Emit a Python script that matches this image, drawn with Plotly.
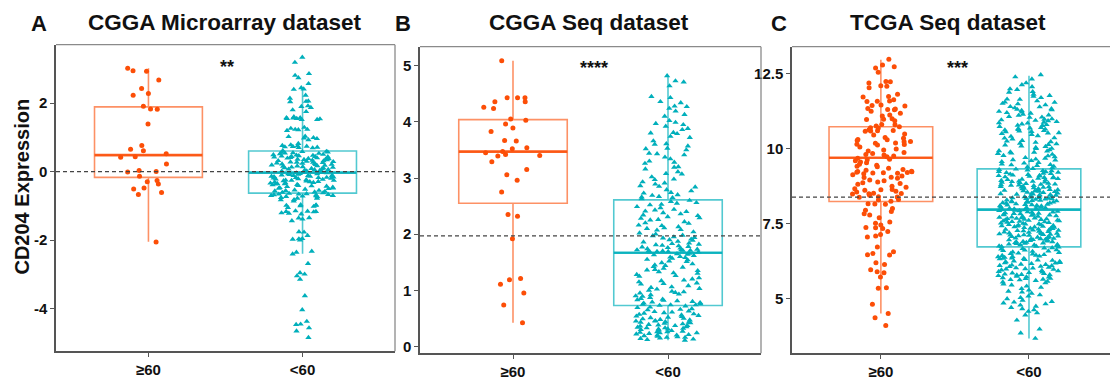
import plotly.graph_objects as go

# ---------------- data ----------------
CATS = ["≥60", "<60"]

# Panel A: CGGA Microarray
A_ge60 = [3.02, 2.95, 2.93, 2.68, 2.43, 2.28, 2.23, 1.91, 1.83, 1.82, 1.39, 0.76, 0.65, 0.61, 0.52,
          0.43, 0.42, 0.22, 0.03, -0.01, 0.00, -0.14, -0.26, -0.30, -0.36, -0.48, -0.51, -0.61, -0.67, -2.06]
A_lt60 = [3.34, 3.19, 2.86, 2.81, 2.74, 2.57, 2.45, 2.41, 2.40, 2.23, 2.14, 2.06, 2.05, 2.04, 1.92, 1.90,
          1.87, 1.80, 1.75, 1.60, 1.57, 1.57, 1.56, 1.55, 1.55, 1.54, 1.52, 1.52, 1.29, 1.26, 1.23, 1.23,
          1.22, 1.20, 1.03, 1.02, 0.99, 0.98, 0.96, 0.93, 0.82, 0.78, 0.76, 0.73, 0.71, 0.70, 0.72, 0.75,
          0.74, 0.69,
          0.58, 0.55, 0.61, 0.47, 0.52, 0.44, 0.39, 0.57, 0.33, 0.41, 0.36, 0.28, 0.49, 0.25, 0.31, 0.22,
          0.45, 0.18, 0.38, 0.14, 0.27, 0.53, 0.09, 0.35, 0.12, 0.42, 0.06, 0.19, 0.29, 0.03, 0.24, 0.48,
          0.16, 0.02, 0.37, 0.11, 0.56, 0.21, 0.07, 0.32, 0.43, 0.15, 0.26, 0.04, 0.50, 0.34, 0.08, 0.40,
          0.17, 0.23, 0.59, 0.13, 0.30, 0.46, 0.05, 0.20, 0.01, 0.36, 0.10, 0.27, 0.44, 0.54,
          -0.03, -0.07, -0.12, -0.04, -0.16, -0.21, -0.09, -0.26, -0.14, -0.31, -0.02, -0.19, -0.35, -0.06,
          -0.24, -0.41, -0.11, -0.28, -0.46, -0.17, -0.33, -0.52, -0.08, -0.22, -0.38, -0.57, -0.13, -0.29,
          -0.44, -0.61, -0.05, -0.18, -0.36, -0.49, -0.25, -0.62, -0.10, -0.32, -0.55, -0.20, -0.42, -0.15,
          -0.27, -0.50, -0.01, -0.23, -0.39, -0.58, -0.12, -0.34, -0.47, -0.07, -0.30, -0.54, -0.18, -0.43,
          -0.60, -0.26, -0.37, -0.14, -0.48, -0.04, -0.56,
          -0.65, -0.66, -0.68, -0.70, -0.67, -0.72, -0.69, -0.74, -0.71, -0.66, -0.76, -0.73, -0.78, -0.64,
          -0.70,
          -0.78, -0.83, -0.86, -0.82, -1.02, -1.05, -0.99, -0.98, -0.99, -0.97, -1.00, -1.22, -1.24, -1.21,
          -1.17, -1.18, -1.16, -1.17, -1.15, -1.39, -1.36, -1.35, -1.44, -1.76, -1.77, -1.87, -1.97, -2.00,
          -1.96, -1.98, -2.33, -2.41, -2.36, -2.69, -2.96, -3.05, -3.00, -3.15, -3.63, -4.04, -4.38, -4.47,
          -4.46, -4.57, -4.66, -4.85]
A_q1 = [-0.17, -0.63]
A_med = [0.48, -0.03]
A_q3 = [1.89, 0.60]
A_lo = [-2.05, -2.40]
A_hi = [3.02, 2.43]

# Panel B: CGGA Seq
B_ge60 = [5.09, 4.43, 4.43, 4.43, 4.36, 4.36, 4.26, 4.24, 4.05, 4.03, 3.96, 3.89, 3.83, 3.67, 3.66, 3.54,
          3.52, 3.47, 3.45, 3.42, 3.40, 3.39, 3.29, 3.15, 3.06, 2.96, 2.75, 2.35, 2.32, 1.92, 1.21, 1.19,
          1.11, 0.95, 0.74, 0.42]
B_lt60 = [4.82, 4.73, 4.71, 4.64, 4.45, 4.43, 4.36, 4.34, 4.28, 4.27, 4.19, 4.13, 4.10, 4.02, 3.99, 3.97,
          3.95, 3.88, 3.86, 3.81, 3.80, 3.79, 3.74, 3.72, 3.66, 3.61, 3.60, 3.57, 3.53, 3.52, 3.50, 3.44,
          3.43, 3.41, 3.37, 3.30, 3.28, 3.26, 3.20, 3.19, 3.16, 3.11, 3.08, 3.07, 3.02, 2.98, 2.97, 2.93,
          2.89, 2.86, 2.85, 2.84, 2.79, 2.77, 2.74, 2.73, 2.70, 2.69, 2.67, 2.66, 2.65, 2.63, 4.24, 3.92,
          3.34, 2.91,
          2.60, 2.58, 2.55, 2.53, 2.52, 2.49, 2.47, 2.44, 2.43, 2.40, 2.38, 2.36, 2.34, 2.31, 2.29, 2.28,
          2.25, 2.22, 2.20, 2.19, 2.16, 2.13, 2.11, 2.10, 2.07, 2.04, 2.02, 2.00, 1.98, 1.97, 1.94, 1.93,
          1.90, 1.89, 1.87, 1.86, 1.84, 1.82, 1.81, 1.79, 1.78, 1.76, 1.75, 1.74, 1.73, 1.72, 1.71, 1.71,
          1.70, 1.69, 1.69, 1.68, 1.68, 2.56, 2.41, 2.26, 2.08, 1.95, 1.83, 1.77, 1.72, 2.33, 2.15, 1.91,
          1.80, 1.70,
          1.66, 1.65, 1.64, 1.62, 1.60, 1.59, 1.57, 1.55, 1.54, 1.51, 1.49, 1.47, 1.45, 1.44, 1.41, 1.39,
          1.37, 1.35, 1.33, 1.30, 1.28, 1.26, 1.25, 1.22, 1.20, 1.17, 1.15, 1.13, 1.11, 1.08, 1.06, 1.05,
          1.02, 1.00, 0.98, 0.96, 0.95, 0.92, 0.90, 0.89, 0.87, 0.85, 0.84, 0.82, 0.81, 0.79, 0.78, 0.77,
          0.76, 0.75, 0.74, 0.74, 0.73, 1.63, 1.52, 1.42, 1.31, 1.18, 1.03, 0.93, 0.83, 1.58, 1.36, 1.12,
          0.97, 0.80,
          0.72, 0.70, 0.69, 0.66, 0.65, 0.63, 0.62, 0.59, 0.58, 0.57, 0.54, 0.53, 0.52, 0.50, 0.47, 0.46,
          0.45, 0.43, 0.42, 0.40, 0.39, 0.37, 0.36, 0.35, 0.33, 0.31, 0.30, 0.29, 0.27, 0.26, 0.24, 0.23,
          0.22, 0.20, 0.18, 0.17, 0.16, 0.14, 0.13, 0.12, 0.11, 0.67, 0.61, 0.55, 0.51, 0.48, 0.44, 0.41,
          0.38, 0.34, 0.32, 0.28, 0.25, 0.21, 0.19, 0.15, 0.56, 0.49, 0.43, 0.37, 0.31, 0.26, 0.20, 0.16,
          0.60, 0.45, 0.33, 0.24]
B_q1 = [2.55, 0.73]
B_med = [3.47, 1.67]
B_q3 = [4.04, 2.61]
B_lo = [0.42, 0.11]
B_hi = [5.09, 4.82]

# Panel C: TCGA Seq
C_ge60 = [12.97, 12.72, 12.78, 12.68, 12.54, 12.09, 12.18, 12.22, 12.02, 12.23, 12.07, 11.80, 11.58, 11.71,
          11.56, 11.73, 11.57, 11.29, 11.30, 11.31, 11.08, 11.17, 11.24, 11.45, 11.41, 11.43, 11.33, 11.11,
          10.97, 10.99, 10.79, 10.92, 10.96, 10.80, 10.75, 10.68, 10.58, 10.57, 10.59, 10.60, 10.69, 10.72,
          10.36, 10.30, 10.29, 10.18, 10.13, 10.34, 10.11, 10.23, 10.22, 10.17, 9.83, 9.91, 9.75, 9.98,
          9.72, 9.52, 9.59, 9.64, 9.67, 9.86, 9.39, 9.34, 9.19, 9.23, 9.01, 9.21, 9.03, 8.92, 9.18, 9.24,
          9.22, 9.27, 9.17, 9.20, 9.41, 9.16, 8.83, 8.81, 9.04, 8.62, 8.51, 8.57, 8.50, 8.49, 8.39, 8.37,
          8.61, 8.88, 8.48, 8.63, 8.38, 8.71, 8.16, 8.15, 8.24, 8.14, 7.94, 7.78, 8.00, 7.90, 7.82, 7.55,
          7.36, 7.37, 7.33, 7.23, 7.69, 7.51, 7.08, 7.45, 7.05, 7.13, 6.46, 6.45, 6.56, 6.72, 6.50, 5.72,
          5.86, 5.89, 6.13, 6.19, 5.96, 5.36, 5.34, 4.81, 4.50, 4.10, 4.36,
          10.45, 10.05, 9.95, 9.80, 9.62, 9.55, 9.47, 9.12, 9.08, 8.95, 8.74, 8.66, 8.44, 8.30, 8.28, 10.48,
          10.62, 10.26, 9.44, 9.30, 8.86, 8.55, 10.14, 9.78, 11.62]
C_lt60 = [12.45, 12.38, 12.31, 12.18, 12.12, 12.05, 11.98, 11.96, 11.89, 11.87, 11.80, 11.76, 11.73, 11.69,
          11.64, 11.63, 11.58, 11.54, 11.53, 11.50,
          11.48, 11.45, 11.39, 11.38, 11.35, 11.30, 11.28, 11.26, 11.21, 11.19, 11.17, 11.11, 11.10, 11.06,
          11.04, 11.03, 10.98, 10.95, 10.93, 10.92, 10.87, 10.85, 10.84, 10.79, 10.77, 10.76, 10.73, 10.69,
          10.68, 10.64, 10.63, 10.61, 10.58, 10.56, 10.55, 10.52, 10.51, 11.32, 11.13, 10.97, 10.81, 10.66,
          11.23, 10.89, 10.59,
          10.49, 10.46, 10.42, 10.40, 10.35, 10.34, 10.31, 10.26, 10.24, 10.22, 10.17, 10.15, 10.13, 10.08,
          10.06, 10.03, 10.00, 9.99, 9.95, 9.92, 9.91, 9.87, 9.84, 9.83, 9.80, 9.76, 9.75, 9.72, 9.69, 9.67,
          9.64, 9.61, 9.59, 9.56, 9.53, 9.51, 9.48, 9.46, 9.43, 9.40, 9.38, 9.35, 9.33, 10.20, 9.88, 9.62,
          10.11, 9.45,
          9.31, 9.29, 9.26, 9.25, 9.23, 9.20, 9.19, 9.17, 9.14, 9.13, 9.11, 9.08, 9.07, 9.04, 9.03, 9.00,
          8.99, 8.97, 8.95, 8.93, 8.90, 8.89, 8.87, 8.86, 8.83, 8.81, 8.80, 8.78, 8.76, 8.74, 8.72, 8.71,
          8.69, 8.66, 8.65, 8.63, 8.61, 8.60, 8.58, 8.56, 8.54, 8.53, 8.50, 8.49, 8.47, 8.45, 8.44, 8.42,
          8.40, 8.39, 8.36, 8.35, 8.33, 8.31, 8.30, 8.27, 8.26, 8.24, 8.22, 8.21, 8.19, 8.17, 8.15, 8.14,
          8.12, 8.10, 8.09, 8.07, 8.05, 8.04, 8.02, 8.00, 7.99, 7.97, 9.28, 9.22, 9.16, 9.09, 9.02, 8.96,
          8.91, 8.84, 8.79, 8.73, 8.67, 8.62, 8.57, 8.51, 8.46, 8.41, 8.37, 8.32, 8.28, 8.23, 8.18, 8.13,
          8.08, 8.03, 7.98, 9.10, 8.88, 8.59, 8.34, 8.11, 8.70, 8.48, 8.20, 9.05, 8.77, 8.25,
          7.95, 7.93, 7.92, 7.90, 7.88, 7.87, 7.85, 7.83, 7.82, 7.80, 7.78, 7.77, 7.75, 7.73, 7.71, 7.70,
          7.68, 7.66, 7.65, 7.63, 7.61, 7.60, 7.58, 7.56, 7.55, 7.53, 7.51, 7.50, 7.48, 7.46, 7.45, 7.43,
          7.41, 7.40, 7.38, 7.36, 7.34, 7.33, 7.31, 7.30, 7.28, 7.26, 7.25, 7.23, 7.21, 7.20, 7.18, 7.16,
          7.15, 7.13, 7.11, 7.10, 7.08, 7.06, 7.05, 7.03, 7.01, 7.00, 6.98, 6.96, 6.95, 6.93, 6.91, 6.90,
          6.88, 6.86, 6.85, 6.83, 6.81, 6.80, 6.78, 6.76, 6.75, 6.73, 7.94, 7.89, 7.84, 7.79, 7.74, 7.69,
          7.64, 7.59, 7.54, 7.49, 7.44, 7.39, 7.35, 7.29, 7.24, 7.19, 7.14, 7.09, 7.04, 6.99, 6.94, 6.89,
          6.84, 6.79, 6.74, 7.62, 7.37, 7.12, 6.87, 7.81, 7.57, 7.27, 6.97, 7.67, 7.42, 7.17,
          6.71, 6.69, 6.66, 6.65, 6.62, 6.60, 6.58, 6.55, 6.53, 6.51, 6.48, 6.46, 6.44, 6.41, 6.39, 6.37,
          6.34, 6.32, 6.30, 6.27, 6.25, 6.23, 6.20, 6.18, 6.16, 6.13, 6.11, 6.09, 6.06, 6.04, 6.02, 5.99,
          5.97, 5.95, 5.92, 5.90, 5.88, 5.85, 5.83, 5.81, 5.78, 5.76, 5.74, 5.71, 5.69, 5.67, 5.64, 5.62,
          5.60, 5.57, 5.55, 5.52, 6.68, 6.57, 6.43, 6.35, 6.22, 6.14, 6.01, 5.93, 5.80, 5.72, 5.63, 6.50,
          6.28, 6.07, 5.86, 5.66, 6.61, 6.40, 6.19, 5.98, 5.79, 6.33, 6.10,
          5.48, 5.45, 5.41, 5.37, 5.33, 5.28, 5.24, 5.21, 5.17, 5.12, 5.08, 5.03, 4.99, 4.94, 4.90, 4.88,
          4.85, 4.82, 4.78, 4.74, 4.70, 4.66, 4.62, 4.57, 4.52,
          4.45, 4.28, 3.98, 3.85, 3.67]
C_q1 = [8.23, 6.72]
C_med = [9.69, 7.96]
C_q3 = [10.72, 9.32]
C_lo = [4.50, 3.67]
C_hi = [12.95, 12.42]

TITLES = ["CGGA Microarray dataset", "CGGA Seq dataset", "TCGA Seq dataset"]
LETTERS = ["A", "B", "C"]
REF_LINES = [0.0, 1.97, 8.38]
STARS = ["**", "****", "***"]
STAR_X = [0.51, 0.52, 0.52]
STAR_Y = [3.2, 5.05, 12.85]
Y_TICKVALS = [[-4, -2, 0, 2], [0, 1, 2, 3, 4, 5], [5, 7.5, 10, 12.5]]
Y_TICKTEXT = [["-4", "-2", "0", "2"], ["0", "1", "2", "3", "4", "5"], ["5", "7.5", "10", "12.5"]]
Y_RANGES = [[-5.25, 3.71], [-0.12, 5.34], [3.18, 13.39]]
X_RANGES = [[-0.6, 1.6], [-0.6, 1.6], [-0.6, 1.547]]

# ---------------- style ----------------
W, H = 1110, 380
FONT = "Liberation Sans, Arial, sans-serif"
PT_COL = ["#FC4E07", "#00AFBB"]
BOX_COL = ["rgba(252,78,7,0.62)", "rgba(0,175,187,0.68)"]
MED_COL = ["rgba(252,78,7,0.85)", "rgba(0,175,187,0.85)"]
SYMBOLS = ["circle", "triangle-up"]
SIZES = [5, 5.5]
AXC = "#555555"

X_DOM = [[56 / W, 395 / W], [420 / W, 761 / W], [792 / W, 1.0]]
Y_DOM = [[(H - 354) / H, (H - 45) / H], [(H - 356) / H, (H - 47) / H], [(H - 356) / H, (H - 47) / H]]

panels = [
    (A_ge60, A_lt60, A_q1, A_med, A_q3, A_lo, A_hi),
    (B_ge60, B_lt60, B_q1, B_med, B_q3, B_lo, B_hi),
    (C_ge60, C_lt60, C_q1, C_med, C_q3, C_lo, C_hi),
]

fig = go.Figure()
shapes = []
annotations = []

for p, (ge, lt, q1, med, q3, lo, hi) in enumerate(panels):
    xa = "x" if p == 0 else f"x{p + 1}"
    ya = "y" if p == 0 else f"y{p + 1}"
    groups = [ge, lt]
    for g in range(2):
        cat = CATS[g]
        # box from statistics
        fig.add_trace(go.Box(
            x=[cat], q1=[q1[g]], median=[med[g]], q3=[q3[g]],
            lowerfence=[lo[g]], upperfence=[hi[g]],
            boxpoints=False, width=0.7, whiskerwidth=0,
            line=dict(color=BOX_COL[g], width=1.6),
            fillcolor="rgba(0,0,0,0)", xaxis=xa, yaxis=ya, hoverinfo="skip"))
        # thicker median line
        fig.add_trace(go.Box(
            x=[cat], q1=[med[g]], median=[med[g]], q3=[med[g]],
            lowerfence=[med[g]], upperfence=[med[g]],
            boxpoints=False, width=0.7, whiskerwidth=0,
            line=dict(color=MED_COL[g], width=2.6),
            fillcolor="rgba(0,0,0,0)", xaxis=xa, yaxis=ya, hoverinfo="skip"))
        # jittered points
        vals = groups[g]
        fig.add_trace(go.Box(
            x=[cat] * len(vals), y=vals,
            boxpoints="all", jitter=0.6, pointpos=0, width=0.7,
            line=dict(color="rgba(0,0,0,0)", width=0),
            fillcolor="rgba(0,0,0,0)",
            marker=dict(color=PT_COL[g], size=SIZES[g], symbol=SYMBOLS[g], line=dict(width=0)),
            xaxis=xa, yaxis=ya))

    axis_x = dict(domain=X_DOM[p], anchor=ya, type="category", categoryorder="array",
                  categoryarray=CATS, range=X_RANGES[p], showline=True, linecolor=AXC, linewidth=1.5,
                  ticks="outside", ticklen=4, tickcolor=AXC, tickwidth=1.2, showgrid=False, zeroline=False,
                  tickfont=dict(family=FONT, size=15, color="#111111", weight="bold"))
    axis_y = dict(domain=Y_DOM[p], anchor=xa, range=Y_RANGES[p], tickvals=Y_TICKVALS[p],
                  ticktext=Y_TICKTEXT[p], showline=True, linecolor=AXC, linewidth=1.5,
                  ticks="outside", ticklen=4, tickcolor=AXC, tickwidth=1.2, showgrid=False, zeroline=False,
                  tickfont=dict(family=FONT, size=15, color="#111111", weight="bold"))
    fig.layout[("xaxis" if p == 0 else f"xaxis{p + 1}")] = axis_x
    fig.layout[("yaxis" if p == 0 else f"yaxis{p + 1}")] = axis_y

    xd = f"{xa} domain"
    yd = f"{ya} domain"
    # top border
    shapes.append(dict(type="line", xref=xd, yref=yd, x0=0, x1=1, y0=1, y1=1,
                       line=dict(color="#8a8a8a", width=1.3)))
    if p < 2:
        shapes.append(dict(type="line", xref=xd, yref=yd, x0=1, x1=1, y0=0, y1=1,
                           line=dict(color="#8a8a8a", width=1.3)))
    # dashed reference line
    shapes.append(dict(type="line", xref=xd, yref=ya, x0=0, x1=1, y0=REF_LINES[p], y1=REF_LINES[p],
                       line=dict(color="#444444", width=1.3, dash="4px,3px")))
    # significance stars
    annotations.append(dict(x=STAR_X[p], y=STAR_Y[p], xref=xa, yref=ya, text=STARS[p], showarrow=False,
                            yshift=-5, font=dict(family=FONT, size=18, color="#111111", weight="bold")))

TITLE_X = [225, 589, 948]
LETTER_X = [39, 403, 779]
for p in range(3):
    annotations.append(dict(x=TITLE_X[p] / W, y=1 - 23 / H, xref="paper", yref="paper", text=TITLES[p],
                            showarrow=False, xanchor="center", yanchor="middle",
                            font=dict(family=FONT, size=22.5, color="#111111", weight="bold")))
    annotations.append(dict(x=LETTER_X[p] / W, y=1 - 24 / H, xref="paper", yref="paper", text=LETTERS[p],
                            showarrow=False, xanchor="center", yanchor="middle",
                            font=dict(family=FONT, size=22, color="#111111", weight="bold")))

annotations.append(dict(x=22 / W, y=1 - 188 / H, xref="paper", yref="paper", text="CD204 Expression",
                        showarrow=False, textangle=-90, xanchor="center", yanchor="middle",
                        font=dict(family=FONT, size=20, color="#111111", weight="bold")))

fig.update_layout(width=W, height=H, margin=dict(l=0, r=0, t=0, b=0),
                  paper_bgcolor="white", plot_bgcolor="white", showlegend=False,
                  boxmode="overlay", shapes=shapes, annotations=annotations)

fig.write_html("out.html")
